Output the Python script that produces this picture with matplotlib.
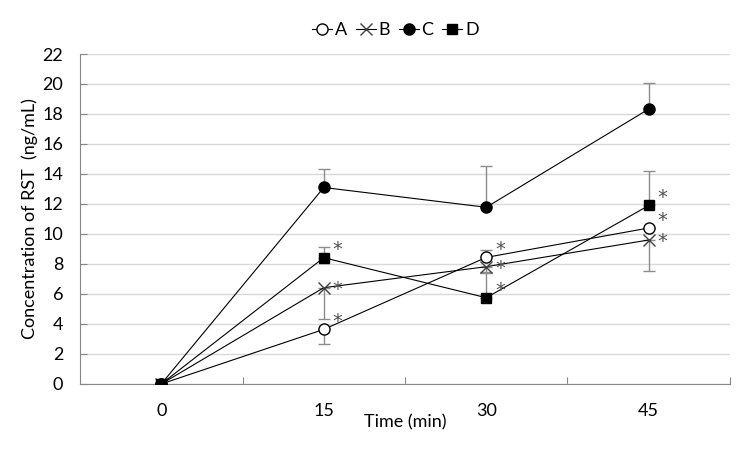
import matplotlib
matplotlib.use("Agg")
import matplotlib.pyplot as plt
import numpy as np

plt.rcParams['font.family'] = ['Lato', 'DejaVu Sans']

TIMES = ['0', '15', '30', '45']
SERIES = ['A', 'B', 'C', 'D']

a_vals = [0, 3.64, 8.44, 10.4]
b_vals = [0, 6.42, 7.82, 9.6]
c_vals = [0, 13.1, 11.78, 18.33]
d_vals = [0, 8.42, 5.75, 11.9]

# one-sided error bars (lower, upper)
a_err_lo = [0, 1.0, 0, 0]
a_err_hi = [0, 0, 0.5, 0]
b_err_lo = [0, 2.1, 0.4, 2.07]
b_err_hi = [0, 0, 0, 0]
c_err_lo = [0, 0, 0, 0]
c_err_hi = [0, 1.25, 2.77, 1.75]
d_err_lo = [0, 0, 0, 0]
d_err_hi = [0, 0.73, 1.7, 2.27]

# significance marks
a_sig = [False, True, True, True]
b_sig = [False, True, True, True]
c_sig = [False, False, False, False]
d_sig = [False, True, True, True]

values = [a_vals, b_vals, c_vals, d_vals]
err_lo = [a_err_lo, b_err_lo, c_err_lo, d_err_lo]
err_hi = [a_err_hi, b_err_hi, c_err_hi, d_err_hi]
sigs = [a_sig, b_sig, c_sig, d_sig]

styles = [
    dict(marker='o', markerfacecolor='white', markeredgecolor='black', markersize=8),
    dict(marker='x', markerfacecolor='none', markeredgecolor='#404040', markersize=9, markeredgewidth=1.0),
    dict(marker='o', markerfacecolor='black', markeredgecolor='black', markersize=8),
    dict(marker='s', markerfacecolor='black', markeredgecolor='black', markersize=7),
]
# vertical shift of the asterisk per series (points)
star_dy = [7, 0, 0, 7]

fig = plt.figure(figsize=(7.5, 4.5), dpi=100)
ax = fig.add_axes([0.1067, 0.1467, 0.8666, 0.7333])

x = np.arange(len(TIMES))

for name, vals, lo, hi, st, sg, dy in zip(SERIES, values, err_lo, err_hi, styles, sigs, star_dy):
    ax.errorbar(x, vals, yerr=[lo, hi], fmt='none', ecolor='#8c8c8c',
                elinewidth=1.0, capsize=4, capthick=1.0, zorder=2)
    ax.plot(x, vals, color='black', linewidth=0.8, label=name, zorder=3, **st)
    for xi, yi, s in zip(x, vals, sg):
        if s:
            ax.annotate(r'$*$', (xi, yi), xytext=(10, dy), textcoords='offset points',
                        fontsize=14, color='#505050', ha='center', va='center')

ax.set_xlim(-0.5, 3.5)
ax.set_ylim(0, 22)
ax.set_yticks(np.arange(0, 23, 2))
ax.yaxis.grid(True, color='#d9d9d9', linewidth=1.0)
ax.set_axisbelow(True)

ax.set_xticks(np.arange(0.5, 4, 1))
ax.set_xticklabels([])
ax.set_xticks(x, minor=True)
ax.set_xticklabels(TIMES, minor=True)
ax.tick_params(axis='x', which='major', direction='in', length=5, color='#868686')
ax.tick_params(axis='x', which='minor', length=0, pad=14, labelsize=13)
ax.tick_params(axis='y', direction='in', length=5, color='#868686', labelsize=13, pad=12)

for side in ['top', 'right']:
    ax.spines[side].set_visible(False)
for side in ['left', 'bottom']:
    ax.spines[side].set_color('#868686')

ax.set_xlabel('Time (min)', fontsize=13, labelpad=-4)
ax.set_ylabel('Concentration of RST  (ng/mL)', fontsize=13, labelpad=3)

fig.legend(loc='center', bbox_to_anchor=(0.527, 0.933), ncol=4, frameon=False,
           fontsize=13, handlelength=1.1, handletextpad=0.15, columnspacing=0.5)

plt.savefig('out.png', dpi=100)
